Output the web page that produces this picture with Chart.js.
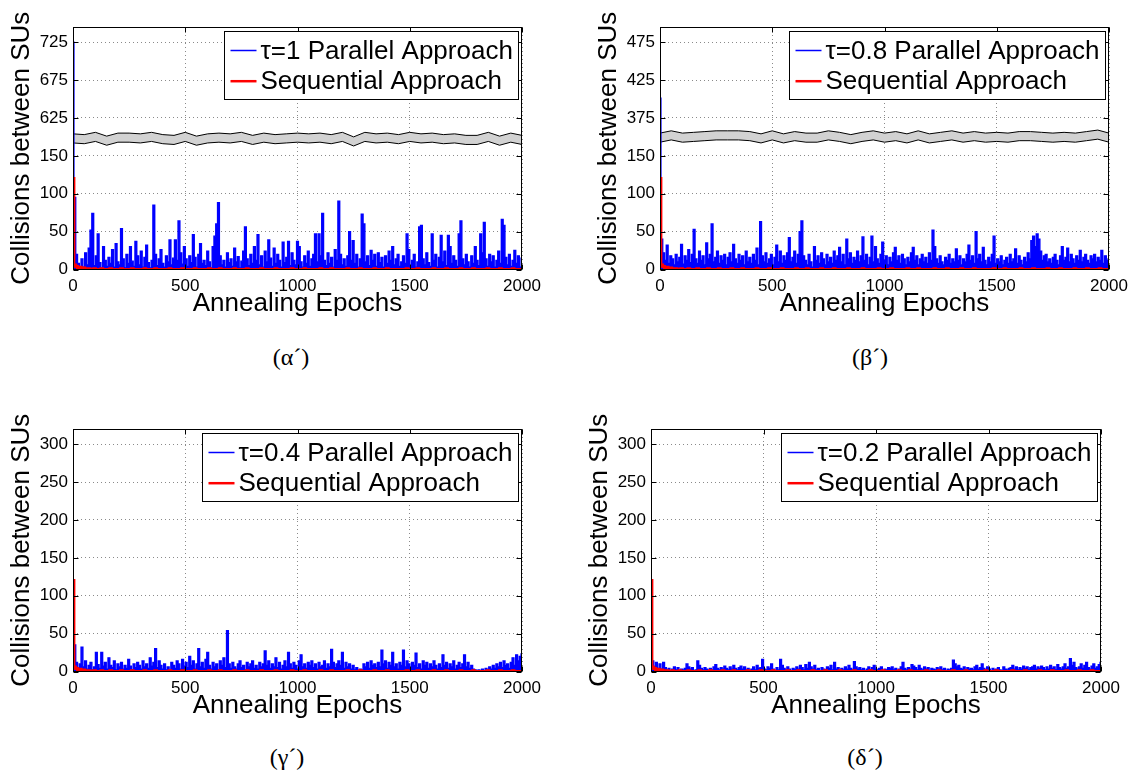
<!DOCTYPE html>
<html><head><meta charset="utf-8">
<script src="https://cdn.jsdelivr.net/npm/chart.js@4/dist/chart.umd.min.js"></script>
<style>
html,body{margin:0;padding:0;background:#fff;width:1131px;height:772px;overflow:hidden;}
.panel{position:absolute;}
.panel canvas{display:block;}
.cap{position:absolute;font-family:"Liberation Serif","Times New Roman",serif;font-size:24px;transform:translate(-50%,-50%);white-space:nowrap;color:#000;}
</style></head><body>
<div class="panel" style="left:0px;top:0px"><canvas id="c1" width="545" height="320"></canvas></div>
<div class="panel" style="left:587px;top:0px"><canvas id="c2" width="544" height="320"></canvas></div>
<div class="panel" style="left:0px;top:402px"><canvas id="c3" width="545" height="320"></canvas></div>
<div class="panel" style="left:578px;top:402px"><canvas id="c4" width="545" height="320"></canvas></div>
<div class="cap" style="left:291px;top:357px">(α´)</div>
<div class="cap" style="left:870px;top:357px">(β´)</div>
<div class="cap" style="left:287px;top:757px">(γ´)</div>
<div class="cap" style="left:865px;top:757px">(δ´)</div>
<script>
// ---- data ----
const epochs = Array.from({length: 251}, (_, i) => i * 8);      // sampling grid (every 8 epochs)
const xTickValues = [0, 500, 1000, 1500, 2000];
const yTickValues = [0, 50, 100, 150, 200, 250, 300];
const yLabelsA = ['0', '50', '100', '150', '625', '675', '725'];
const yLabelsB = ['0', '50', '100', '150', '375', '425', '475'];
const yLabelsCD = ['0', '50', '100', '150', '200', '250', '300'];

const parallelTau1 = [
725,95,20,8,2,14,3,22,6,28,
52,74,5,18,47,9,2,30,12,4,
16,8,26,3,34,10,6,54,14,2,
20,8,30,11,4,37,18,6,24,3,
16,32,9,2,12,85,20,5,14,26,
8,3,18,10,39,6,15,39,12,64,
22,7,30,14,4,18,9,46,16,3,
20,34,8,12,5,24,10,2,30,44,
60,88,18,6,12,3,22,9,14,4,
28,10,17,2,11,24,56,14,5,20,
8,30,12,46,6,18,3,24,10,39,
15,4,28,8,20,12,3,36,9,16,
37,5,22,12,6,37,30,10,3,18,
8,24,4,14,20,47,10,47,18,74,
12,5,22,8,16,3,26,12,90,20,
6,14,4,18,50,12,38,8,20,3,
14,73,60,10,18,5,25,12,20,4,
22,9,16,3,18,8,24,12,30,6,
14,20,4,10,18,8,47,26,5,12,
20,3,10,56,58,14,6,22,9,4,
47,12,20,3,16,45,10,24,5,45,
30,8,18,12,4,47,64,14,6,20,
10,3,18,8,30,12,5,47,22,62,
14,4,20,10,18,3,12,24,8,66,
58,16,6,20,4,12,25,8,18,3,
15];

const parallelTau08 = [
401,40,22,12,32,8,18,14,6,20,
10,16,33,7,18,12,26,9,20,53,
14,8,24,12,18,6,35,14,20,60,
10,16,24,8,18,12,20,6,16,22,
10,33,14,8,20,12,18,6,24,10,
16,8,20,12,28,6,63,18,10,22,
8,14,20,6,16,32,10,24,8,18,
12,22,42,10,16,24,8,20,50,64,
18,12,6,20,10,3,30,12,18,8,
22,14,6,20,10,16,8,24,12,18,
29,10,20,6,40,14,22,8,16,12,
24,10,18,43,12,20,6,16,44,10,
30,14,8,20,36,12,18,6,16,10,
22,29,12,18,8,20,14,6,16,10,
22,29,12,18,6,14,20,10,16,8,
22,12,52,30,14,8,18,10,6,16,
12,20,8,14,10,27,12,18,6,14,
10,20,32,12,18,8,50,14,20,10,
29,12,6,16,10,20,44,8,14,10,
18,6,12,16,8,20,10,14,27,8,
18,12,6,16,10,22,14,38,44,30,
47,40,24,12,18,20,10,14,8,16,
20,12,6,18,30,12,16,28,10,20,
14,8,18,12,25,10,16,20,12,8,
18,14,20,10,16,12,25,8,18,12,
14];

const parallelTau04 = [
110,35,12,4,10,32,6,14,3,8,
12,2,6,25,9,4,25,7,12,3,
18,8,5,14,2,10,6,12,3,8,
4,16,7,2,10,5,12,8,3,14,
6,10,4,18,7,12,30,5,14,8,
3,10,2,6,1,12,8,4,14,10,
3,16,7,12,5,20,8,14,3,10,
30,6,12,4,16,25,8,3,12,6,
10,2,14,8,18,5,54,10,4,12,
6,3,10,14,5,8,2,12,6,10,
14,4,8,3,12,6,10,27,8,14,
4,10,6,18,5,12,3,8,14,6,
25,10,4,12,8,3,14,22,6,10,
4,12,8,14,5,10,3,12,6,8,
14,4,10,6,29,12,5,10,14,8,
25,4,12,6,10,3,8,2,5,1,
3,2,10,6,12,4,14,8,10,5,
12,6,28,10,14,4,12,8,25,6,
10,3,12,8,28,6,14,10,4,12,
8,24,5,10,3,14,8,12,4,10,
6,14,8,3,10,5,22,8,12,4,
10,6,14,3,8,12,5,10,22,6,
12,4,8,3,2,1,2,1,3,1,
4,2,6,3,8,4,10,6,12,5,
14,8,10,4,12,18,8,22,14,20,
23];

const parallelTau02 = [
55,14,6,12,4,10,3,12,5,2,
4,1,3,6,2,5,1,3,2,4,
10,6,3,5,1,2,14,8,4,2,
5,3,1,4,2,6,9,4,2,5,
3,7,4,2,6,3,8,4,2,5,
7,3,6,2,4,1,3,6,2,8,
4,5,16,3,2,6,4,10,3,1,
5,2,16,8,4,2,6,3,1,4,
2,6,3,8,5,2,9,4,12,6,
3,8,2,4,1,5,3,2,6,4,
8,2,12,3,5,1,4,2,6,3,
8,4,2,13,6,3,5,2,4,1,
3,6,2,5,8,3,2,4,6,1,
3,2,5,4,6,2,4,1,3,6,
12,4,2,5,3,9,7,5,2,8,
4,2,6,3,5,1,4,3,2,5,
3,6,2,4,1,3,2,4,15,10,
6,8,4,3,6,2,5,3,4,2,
6,8,3,5,10,4,2,6,3,1,
4,2,3,5,2,1,6,3,2,4,
5,8,3,6,2,5,3,7,4,6,
2,5,6,8,3,6,4,7,5,2,
6,3,8,4,6,2,9,5,3,6,
10,4,6,17,8,12,5,3,6,10,
4,8,12,5,3,7,10,4,6,9,
12];

const sequential = [
120,6,4,2,3,1,2,1,0,1,
0,0,1,0,0,0,1,0,0,0,
0,1,0,0,0,0,0,1,0,0,
0,0,0,1,0,0,0,0,0,0,
1,0,0,0,0,0,1,0,0,0,
0,0,0,0,1,0,0,0,0,0,
0,1,0,0,0,0,0,0,1,0,
0,0,0,0,0,0,1,0,0,0,
0,0,1,0,0,0,0,0,0,0,
1,0,0,0,0,0,0,1,0,0,
0,0,0,0,0,1,0,0,0,0,
0,0,0,1,0,0,0,0,0,0,
0,0,1,0,0,0,0,0,0,1,
0,0,0,0,0,0,0,0,1,0,
0,0,0,0,1,0,0,0,0,0,
0,0,0,1,0,0,0,0,0,0,
1,0,0,0,0,0,0,0,1,0,
0,0,0,0,0,1,0,0,0,0,
0,0,0,0,0,0,1,0,0,0,
0,0,1,0,0,0,0,0,0,0,
0,1,0,0,0,0,0,0,1,0,
0,0,0,0,0,0,1,0,0,0,
0,0,0,1,0,0,0,0,0,0,
0,1,0,0,0,0,0,0,1,0,
0,0,0,0,0,1,0,0,0,0,
0];

// axis-break marker (zig-zag band), in plotted-axis units
const bandEpochs = Array.from({length: 41}, (_, i) => i * 50);
const breakUpperA = [179,178,181,176,180,180,179,181,178,177,181,176,179,180,179,181,177,180,178,179,180,179,180,178,181,175,181,179,180,178,181,179,180,178,179,177,177,181,176,180,177];
const breakLowerA = [167,166,169,164,168,168,167,169,166,165,169,164,167,168,167,169,165,168,166,167,168,167,168,166,169,163,169,167,168,166,169,167,168,166,167,165,165,169,164,168,165];
const breakUpperB = [180,183,180,181,182,183,183,183,182,179,183,179,182,180,180,183,181,178,181,183,180,182,179,183,179,181,183,180,182,180,181,180,182,182,181,180,181,180,182,184,180];
const breakLowerB = [168,171,168,169,170,171,171,171,170,167,171,167,170,168,168,171,169,166,169,171,168,170,167,171,167,169,171,168,170,168,169,168,170,170,169,168,169,168,170,172,168];

// ---- drawing ----
const FONT = '"Liberation Sans", Arial, Helvetica, sans-serif';
Chart.defaults.font.family = FONT;
Chart.defaults.color = '#000';

const framePlugin = {
  id: 'matlabFrame',
  afterDraw(chart) {
    const {ctx, chartArea: a} = chart;
    const xs = chart.scales.x, ys = chart.scales.y;
    ctx.save();
    ctx.strokeStyle = '#000';
    ctx.lineWidth = 1;
    const L = Math.round(a.left) + 0.5, R = Math.round(a.right) - 0.5;
    const T = Math.round(a.top) + 0.5, B = Math.round(a.bottom) - 0.5;
    ctx.beginPath();
    xTickValues.forEach(v => {
      const px = Math.round(xs.getPixelForValue(v)) + 0.5;
      ctx.moveTo(px, B); ctx.lineTo(px, B - 5);
      ctx.moveTo(px, T); ctx.lineTo(px, T + 5);
    });
    yTickValues.forEach(v => {
      const py = Math.round(ys.getPixelForValue(v)) + 0.5;
      ctx.moveTo(L, py); ctx.lineTo(L + 5, py);
      ctx.moveTo(R, py); ctx.lineTo(R - 5, py);
    });
    ctx.stroke();
    ctx.strokeRect(L, T, R - L, B - T);

    // legend box (inside the plot, top-right)
    const items = chart.data.datasets.filter(d => !d.isBand)
      .sort((p, q) => p.legendIndex - q.legendIndex);
    ctx.font = '26px ' + FONT;
    const tw = Math.max(...items.map(it => ctx.measureText(it.label).width));
    const bw = Math.round(6 + 26 + 4 + tw + 6), bh = 68;
    const bx = Math.round(a.right - 4 - bw) + 0.5, by = Math.round(a.top + 4) + 0.5;
    ctx.fillStyle = '#fff';
    ctx.fillRect(bx, by, bw, bh);
    ctx.strokeStyle = '#000'; ctx.lineWidth = 1;
    ctx.strokeRect(bx, by, bw, bh);
    items.forEach((it, i) => {
      const cy = by + 19 + i * 30.7;
      ctx.strokeStyle = it.borderColor;
      ctx.lineWidth = it.legendWidth;
      ctx.beginPath(); ctx.moveTo(bx + 6, cy); ctx.lineTo(bx + 32, cy); ctx.stroke();
      ctx.fillStyle = '#000';
      ctx.textBaseline = 'middle';
      ctx.textAlign = 'left';
      ctx.fillText(it.label, bx + 36, cy + 1);
    });
    ctx.restore();
  }
};

function makeChart(id, cfg) {
  const mapY = v => (cfg.offset && v > 150) ? v - cfg.offset : v;
  const datasets = [
    {label: cfg.label, legendIndex: 0, legendWidth: 1.5,
     data: epochs.map((e, i) => ({x: e, y: mapY(cfg.parallel[i])})),
     borderColor: '#0000ff', borderWidth: 1.4, order: 1, stepped: 'middle',
     fill: 'origin', backgroundColor: '#0000ff'},
    {label: 'Sequential Approach', legendIndex: 1, legendWidth: 2.5,
     data: epochs.map((e, i) => ({x: e, y: mapY(sequential[i])})),
     borderColor: '#ff0000', borderWidth: 3, order: 0, stepped: 'middle', fill: false}
  ];
  if (cfg.bandLow) {
    datasets.push({isBand: true, label: 'break-low',
      data: bandEpochs.map((e, i) => ({x: e, y: cfg.bandLow[i]})),
      borderColor: '#000', borderWidth: 1, order: 2, fill: false});
    datasets.push({isBand: true, label: 'break-high',
      data: bandEpochs.map((e, i) => ({x: e, y: cfg.bandHigh[i]})),
      borderColor: '#000', borderWidth: 1, order: 2, fill: '-1', backgroundColor: '#d2d2d2'});
  }
  const gridOpts = {color: '#8a8a8a', lineWidth: 1, drawTicks: false};
  new Chart(document.getElementById(id), {
    type: 'line',
    data: {datasets},
    options: {
      responsive: false, animation: false, devicePixelRatio: 1,
      layout: {padding: {left: 0, top: 27, right: cfg.padRight, bottom: 0}},
      elements: {point: {radius: 0}, line: {tension: 0}},
      plugins: {legend: {display: false}, tooltip: {enabled: false}},
      scales: {
        x: {
          type: 'linear', min: 0, max: 2000,
          afterBuildTicks: s => { s.ticks = xTickValues.map(v => ({value: v})); },
          afterFit: s => { s.height = 50.5; s.paddingLeft = 0; s.paddingRight = 0; },
          ticks: {autoSkip: false, maxRotation: 0, minRotation: 0, padding: 7,
                  font: {size: 17}, color: '#000', callback: v => String(v)},
          grid: gridOpts,
          border: {display: false, dash: [1, 3]},
          title: {display: true, text: 'Annealing Epochs', color: '#000',
                  font: {size: 26}, padding: {top: 0, bottom: 1}}
        },
        y: {
          type: 'linear', min: 0, max: 320,
          afterBuildTicks: s => { s.ticks = yTickValues.map(v => ({value: v})); },
          afterFit: s => { s.width = 73; s.paddingTop = 0; s.paddingBottom = 0; },
          ticks: {autoSkip: false, padding: 5, font: {size: 17}, color: '#000',
                  callback: v => cfg.yLabels[yTickValues.indexOf(v)]},
          grid: gridOpts,
          border: {display: false, dash: [1, 3]},
          title: {display: true, text: 'Collisions between SUs', color: '#000',
                  font: {size: 26}, padding: {top: 6, bottom: 0}}
        }
      }
    },
    plugins: [framePlugin]
  });
}

makeChart('c1', {label: 'τ=1 Parallel Approach', parallel: parallelTau1, offset: 425,
  yLabels: yLabelsA, bandLow: breakLowerA, bandHigh: breakUpperA, padRight: 23});
makeChart('c2', {label: 'τ=0.8 Parallel Approach', parallel: parallelTau08, offset: 175,
  yLabels: yLabelsB, bandLow: breakLowerB, bandHigh: breakUpperB, padRight: 22});
makeChart('c3', {label: 'τ=0.4 Parallel Approach', parallel: parallelTau04, offset: 0,
  yLabels: yLabelsCD, padRight: 23});
makeChart('c4', {label: 'τ=0.2 Parallel Approach', parallel: parallelTau02, offset: 0,
  yLabels: yLabelsCD, padRight: 22});
</script>
</body></html>
